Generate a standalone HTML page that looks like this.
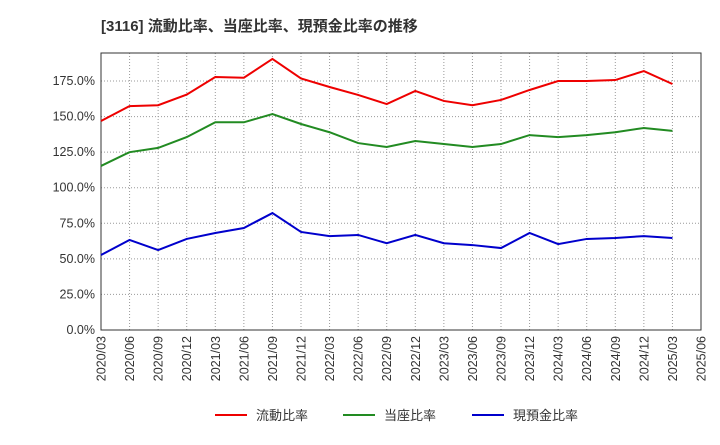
<!DOCTYPE html>
<html><head><meta charset="utf-8"><style>
body{margin:0;background:#fff;font-family:"Liberation Sans","Noto Sans CJK JP",sans-serif;}
</style></head><body>
<svg id="chart" width="720" height="440" xmlns="http://www.w3.org/2000/svg" font-family="Liberation Sans, Noto Sans CJK JP, sans-serif">
<text x="101" y="31" font-size="15" font-weight="bold" fill="#333">[3116]  流動比率、当座比率、現預金比率の推移</text>
<g id="grid"></g><g id="axes"></g><g id="series"></g>
<g>
<line x1="215" y1="415" x2="247" y2="415" stroke="#e00" stroke-width="2"/>
<text x="256" y="420" font-size="13" fill="#333">流動比率</text>
<line x1="343" y1="415" x2="375" y2="415" stroke="#228B22" stroke-width="2"/>
<text x="384" y="420" font-size="13" fill="#333">当座比率</text>
<line x1="472" y1="415" x2="504" y2="415" stroke="#00c" stroke-width="2"/>
<text x="513" y="420" font-size="13" fill="#333">現預金比率</text>
</g>
</svg>
<script>
const categories=["2020/03","2020/06","2020/09","2020/12","2021/03","2021/06","2021/09","2021/12","2022/03","2022/06","2022/09","2022/12","2023/03","2023/06","2023/09","2023/12","2024/03","2024/06","2024/09","2024/12","2025/03","2025/06"];
const currentRatio=[146.9,157.4,158,165.5,177.8,177.3,190.5,176.8,170.8,165.2,158.8,168,161,158,161.7,168.7,175,175,175.7,182,172.9];
const quickRatio=[115.3,125,128,135.6,146,146,151.8,144.8,139,131.4,128.6,132.8,130.7,128.6,130.7,137,135.6,137,139,142,140];
const cashRatio=[52.7,63.3,56.2,64,68.2,71.7,82.2,68.9,66,66.8,61,66.8,61,59.7,57.6,68.2,60.4,64,64.7,66,64.7];
const yTicks=[0,25,50,75,100,125,150,175];
const yMax=194.7;
const L=101,R=701,T=53,B=330;
const NS="http://www.w3.org/2000/svg";
const xs=i=>L+i*(R-L)/(categories.length-1);
const ys=v=>B-v/yMax*(B-T);
function mk(tag,attrs,parent){const e=document.createElementNS(NS,tag);for(const k in attrs)e.setAttribute(k,attrs[k]);document.getElementById(parent).appendChild(e);return e;}
yTicks.forEach(v=>{
 const g=mk("line",{x1:L,x2:R,y1:ys(v),y2:ys(v),stroke:"#999","stroke-dasharray":"1,2","stroke-width":1},"grid");
 
 
 const t=mk("text",{x:L-6,y:ys(v)+4,"text-anchor":"end","font-size":12.5,fill:"#333"},"axes");
 t.textContent=v.toFixed(1)+"%";
 
 
});
categories.forEach((c,i)=>{
 const g=mk("line",{x1:xs(i),x2:xs(i),y1:T,y2:B,stroke:"#999","stroke-dasharray":"1,2","stroke-width":1},"grid");
 
 
 const x=xs(i)+4.5,y=B+6;
 const t=mk("text",{x:x,y:y,transform:`rotate(-90 ${x} ${y})`,"text-anchor":"end","font-size":12.5,fill:"#333"},"axes");
 t.textContent=c;
 
 
});
const frame=mk("rect",{x:L,y:T,width:R-L,height:B-T,fill:"none",stroke:"#333","stroke-width":1},"axes");


[[currentRatio,"#e00","current-ratio-line"],[quickRatio,"#228B22","quick-ratio-line"],[cashRatio,"#00c","cash-ratio-line"]].forEach(([d,col,n])=>{
 const p=mk("polyline",{points:d.map((v,i)=>xs(i)+","+ys(v)).join(" "),fill:"none",stroke:col,"stroke-width":2},"series");
 
 
});
</script>
</body></html>
